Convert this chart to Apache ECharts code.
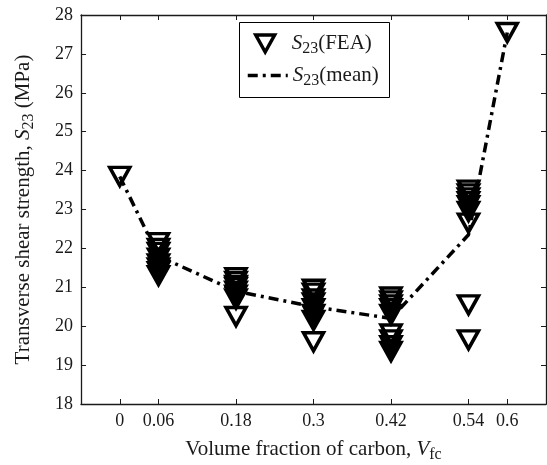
<!DOCTYPE html>
<html><head><meta charset="utf-8">
<script src="https://cdn.jsdelivr.net/npm/echarts@6/dist/echarts.min.js"></script>
<style>html,body{margin:0;padding:0;background:#fff}#c{width:547px;height:465px}</style>
</head><body><div id="c"></div>
<script>
// Tick labels / x positions
const xTicks = [0, 0.06, 0.18, 0.3, 0.42, 0.54, 0.6];
// FEA results at each volume fraction
const fea_000 = [23.85];
const fea_006 = [22.15, 22.0, 21.9, 21.75, 21.6, 21.5, 21.4, 21.3];
const fea_018 = [21.25, 21.15, 21.05, 21.0, 20.9, 20.8, 20.7, 20.25];
const fea_030 = [20.95, 20.85, 20.7, 20.6, 20.45, 20.3, 20.15, 19.6];
const fea_042 = [20.75, 20.65, 20.55, 20.45, 20.3, 19.8, 19.65, 19.5, 19.35];
const fea_054 = [23.5, 23.4, 23.3, 23.2, 23.1, 22.95, 22.65, 20.55, 19.65];
const fea_060 = [27.55];
// Mean values
const meanVals = [23.85, 21.8, 20.9, 20.5, 20.2, 22.35, 27.55];

const feaGroups = [fea_000, fea_006, fea_018, fea_030, fea_042, fea_054, fea_060];
const feaData = [];
feaGroups.forEach((g, i) => g.forEach(v => feaData.push([xTicks[i], v])));
const meanData = xTicks.map((x, i) => [x, meanVals[i]]);

const FONT = 'Liberation Serif';
const C = '#1a1a1a';
const FS = 21;
const rich = {
  s: {fontFamily: FONT, fontSize: FS, fontStyle: 'italic', color: C},
  sub: {fontFamily: FONT, fontSize: 16, color: C, padding: [11, 0, 0, 0]},
  n: {fontFamily: FONT, fontSize: FS, color: C},
  g: {width: 12}
};
const lineStyleMean = {color: '#000', width: 3.5, type: [10, 5, 3, 5]};
const feaItem = {color: 'rgba(255,255,255,0)', borderColor: '#000', borderWidth: 3.5, opacity: 1};

const chart = echarts.init(document.getElementById('c'), null, {renderer: 'canvas'});
const axisCommon = {
  axisLine: {show: true, onZero: false, lineStyle: {color: C, width: 1.3}},
  splitLine: {show: false}
};
chart.setOption({
  animation: false,
  backgroundColor: '#fff',
  grid: {left: 81, right: 1, top: 15, bottom: 61, outerBoundsMode: 'none', containLabel: false},
  graphic: [{
    type: 'rect', left: 239, top: 22, z: 1,
    shape: {x: 0, y: 0, width: 150, height: 75},
    style: {fill: '#fff', stroke: '#000', lineWidth: 1}
  }],
  legend: [{
    left: 254, top: 33, padding: 0,
    itemWidth: 19, itemHeight: 17,
    formatter: () => '{g|}{s|S}{sub|23}{n|(FEA)}',
    textStyle: {rich: rich},
    data: [{name: 'fea', icon: 'path://M0,0 L20,0 L10,18 Z', itemStyle: feaItem}]
  }, {
    left: 246, top: 65, padding: 0,
    itemWidth: 40, itemHeight: 18,
    formatter: () => '{s|S}{sub|23}{n|(mean)}',
    textStyle: {rich: rich},
    data: [{name: 'mean', itemStyle: {opacity: 0}, lineStyle: lineStyleMean}]
  }],
  xAxis: [{
    type: 'value', min: -0.06, max: 0.66, position: 'bottom',
    ...axisCommon,
    axisTick: {show: true, inside: true, length: 5, customValues: xTicks, lineStyle: {color: C}},
    axisLabel: {customValues: xTicks, fontFamily: FONT, fontSize: 18, color: C, margin: 8,
      formatter: v => String(+v.toFixed(2))},
    name: '{n|Volume fraction of carbon, }{s|V}{sub|fc}',
    nameLocation: 'middle', nameGap: 32,
    nameTextStyle: {rich: rich}
  }, {
    type: 'value', min: -0.06, max: 0.66, position: 'top',
    ...axisCommon,
    axisTick: {show: true, inside: true, length: 5, customValues: xTicks, lineStyle: {color: C}},
    axisLabel: {show: false}
  }],
  yAxis: [{
    type: 'value', min: 18, max: 28, interval: 1, position: 'left',
    ...axisCommon,
    axisTick: {show: true, inside: true, length: 5, lineStyle: {color: C}},
    axisLabel: {fontFamily: FONT, fontSize: 18, color: C, margin: 8},
    name: '{n|Transverse shear strength, }{s|S}{sub|23}{n| (MPa)}',
    nameLocation: 'middle', nameGap: 44, nameRotate: 90,
    nameTextStyle: {rich: rich}
  }, {
    type: 'value', min: 18, max: 28, interval: 1, position: 'right',
    ...axisCommon,
    axisTick: {show: true, inside: true, length: 5, lineStyle: {color: C}},
    axisLabel: {show: false}
  }],
  series: [{
    name: 'mean', type: 'line', data: meanData, showSymbol: false, symbol: 'none',
    itemStyle: {color: '#000'},
    lineStyle: lineStyleMean,
    z: 2
  }, {
    name: 'fea', type: 'scatter', data: feaData,
    symbol: 'triangle', symbolRotate: 180, symbolSize: [20, 18],
    itemStyle: feaItem,
    z: 3
  }]
});
</script></body></html>
